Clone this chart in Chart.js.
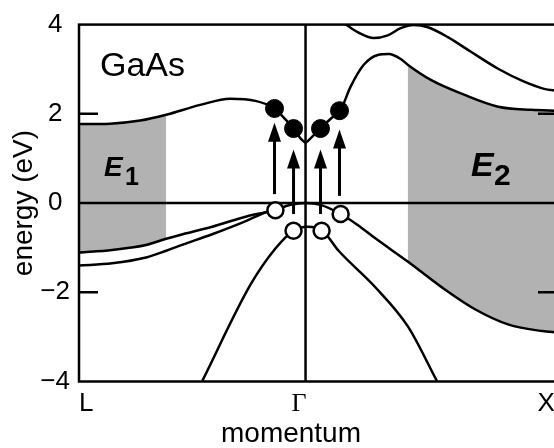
<!DOCTYPE html>
<html>
<head>
<meta charset="utf-8">
<script src="https://cdn.jsdelivr.net/npm/chart.js@4"></script>
<style>
  html, body { margin: 0; padding: 0; background: #fff; overflow: hidden; }
  #wrap { width: 600px; height: 448px; }
</style>
</head>
<body>
<div id="wrap"><canvas id="bands" width="600" height="448"></canvas></div>
<script>
// ---------------- DATA ----------------
// momentum axis: L = -1, Gamma = 0, X = 1.1
const kTicks = [-1, 0, 1.1];
const kLabels = ['L', 'Γ  ', 'X'];
const kMin = -1, kMax = 1.11;
const eMin = -4, eMax = 4, eStep = 2;

// lowest conduction band
const cb1K = [-1, -0.863, -0.730, -0.615, -0.465, -0.332, -0.221, -0.137, -0.088, -0.053, -0.022, 0, 0.022, 0.066, 0.111, 0.155, 0.199, 0.257, 0.319, 0.367, 0.420, 0.451, 0.553, 0.699, 0.850, 0.996, 1.111];
const cb1E = [1.77, 1.78, 1.85, 1.98, 2.20, 2.34, 2.29, 2.12, 1.87, 1.67, 1.45, 1.36, 1.45, 1.67, 1.89, 2.09, 2.61, 3.10, 3.32, 3.34, 3.23, 3.10, 2.76, 2.43, 2.16, 2.09, 2.07];

// upper conduction band
const cb2K = [0.133, 0.177, 0.230, 0.301, 0.363, 0.420, 0.478, 0.540, 0.628, 0.730, 0.850, 0.965, 1.053, 1.111];
const cb2E = [4.17, 4.01, 3.83, 3.70, 3.76, 3.92, 3.99, 3.94, 3.72, 3.39, 3.01, 2.72, 2.56, 2.52];

// top valence band (L -> Gamma -> X)
const hhK = [-1, -0.854, -0.704, -0.615, -0.558, -0.412, -0.261, -0.137, -0.066, 0, 0.066, 0.155, 0.230, 0.305, 0.451, 0.602, 0.748, 0.894, 1.044, 1.111];
const hhE = [-1.11, -1.05, -0.94, -0.80, -0.72, -0.53, -0.30, -0.16, -0.04, 0, -0.04, -0.245, -0.49, -0.78, -1.31, -1.89, -2.38, -2.72, -2.87, -2.90];

// second valence band, L side
const lhK = [-1, -0.854, -0.704, -0.615, -0.558, -0.412, -0.261, -0.173, -0.137];
const lhE = [-1.40, -1.35, -1.22, -1.07, -0.96, -0.70, -0.40, -0.20, -0.16];

// split-off band
const soK = [-0.456, -0.243, -0.133, -0.053, 0.009, 0.075, 0.146, 0.305, 0.451, 0.580];
const soE = [-3.99, -1.83, -1.02, -0.62, -0.53, -0.62, -1.07, -1.87, -2.76, -3.99];

// optical transitions: holes (open), electrons (filled), arrows
const holeK = [-0.133, -0.053, 0.071, 0.155];
const holeE = [-0.16, -0.62, -0.62, -0.245];
const elecK = [-0.137, -0.053, 0.066, 0.150];
const elecE = [2.12, 1.67, 1.67, 2.07];
const arrowK = [-0.137, -0.053, 0.066, 0.150];
const arrowFrom = [0.20, -0.245, -0.245, 0.16];
const arrowTo = [1.80, 1.20, 1.20, 1.65];

// shaded k ranges (E1 near L, E2 towards X)
const e1Range = [-1, -0.615];
const e2Range = [0.451, 1.111];

// ---------------- HELPERS ----------------
const FONT = "'Liberation Sans', Arial, sans-serif";
const pts = (k, e) => k.map((x, i) => ({ x, y: e[i] }));
const inRange = (r) => pts(cb1K, cb1E).filter(p => p.x >= r[0] - 1e-9 && p.x <= r[1] + 1e-9);
const minus = v => v < 0 ? '\u2212' + (-v) : String(v);

Chart.defaults.font.family = FONT;
Chart.defaults.color = '#000';

const band = (data) => ({
  data, borderColor: '#000', borderWidth: 2.5, pointRadius: 0,
  cubicInterpolationMode: 'monotone', fill: false, order: 6
});
const HH = 3; // index of the top valence band dataset, used as fill target

const datasets = [
  { data: inRange(e1Range), borderColor: 'rgba(0,0,0,0)', borderWidth: 0, pointRadius: 0,
    cubicInterpolationMode: 'monotone', backgroundColor: '#b2b2b2', fill: HH, order: 10 },
  { data: inRange(e2Range), borderColor: 'rgba(0,0,0,0)', borderWidth: 0, pointRadius: 0,
    cubicInterpolationMode: 'monotone', backgroundColor: '#b2b2b2', fill: HH, order: 10 },
  { data: pts([kMin, kMax], [0, 0]), borderColor: '#000', borderWidth: 2.5, pointRadius: 0, fill: false, order: 8 },
  band(pts(hhK, hhE)),
  band(pts(lhK, lhE)),
  band(pts(soK, soE)),
  band(pts(cb1K, cb1E)),
  band(pts(cb2K, cb2E)),
  { data: pts([0, 0], [eMin, eMax]), borderColor: '#000', borderWidth: 2.5, pointRadius: 0, fill: false, order: 8 },
  { data: pts(holeK, holeE), showLine: false, pointRadius: 8, pointBackgroundColor: '#fff',
    pointBorderColor: '#000', pointBorderWidth: 2.5, order: 1 },
  { data: pts(elecK, elecE), showLine: false, pointRadius: 9, pointBackgroundColor: '#000',
    pointBorderColor: '#000', pointBorderWidth: 1, order: 1 }
];

// frame, inward ticks, arrows and labels
const decor = {
  id: 'decor',
  afterDatasetsDraw(chart) {
    const { ctx, chartArea: a, scales: { x, y } } = chart;
    ctx.save();
    ctx.strokeStyle = '#000';
    ctx.fillStyle = '#000';
    ctx.lineWidth = 2.5;
    ctx.strokeRect(a.left, a.top, a.right - a.left, a.bottom - a.top);

    [-2, 2].forEach(v => {
      const py = y.getPixelForValue(v);
      ctx.beginPath();
      ctx.moveTo(a.left, py); ctx.lineTo(a.left + 19, py);
      ctx.moveTo(a.right, py); ctx.lineTo(a.right - 19, py);
      ctx.stroke();
    });

    arrowK.forEach((k, i) => {
      const px = x.getPixelForValue(k);
      const y1 = y.getPixelForValue(arrowFrom[i]);
      const y2 = y.getPixelForValue(arrowTo[i]);
      ctx.lineWidth = 3;
      ctx.beginPath();
      ctx.moveTo(px, y1); ctx.lineTo(px, y2 + 15);
      ctx.stroke();
      ctx.beginPath();
      ctx.moveTo(px, y2);
      ctx.lineTo(px - 6.5, y2 + 19);
      ctx.lineTo(px + 6.5, y2 + 19);
      ctx.closePath();
      ctx.fill();
    });
    ctx.restore();
  },
  afterDraw(chart) {
    const { ctx } = chart;
    ctx.save();
    ctx.fillStyle = '#000';
    ctx.textBaseline = 'alphabetic';
    ctx.textAlign = 'left';
    ctx.font = `34px ${FONT}`;
    ctx.fillText('GaAs', 100, 76);

    ctx.font = `italic bold 28px ${FONT}`;
    ctx.fillText('E', 104, 176);
    ctx.font = `bold 25px ${FONT}`;
    ctx.fillText('1', 125, 185);

    ctx.font = `italic bold 34px ${FONT}`;
    ctx.fillText('E', 471, 176);
    ctx.font = `bold 30px ${FONT}`;
    ctx.fillText('2', 494, 185);

    ctx.textAlign = 'center';
    ctx.font = `28px ${FONT}`;
    ctx.fillText('momentum', 291, 442);
    ctx.restore();
  }
};

new Chart(document.getElementById('bands'), {
  type: 'line',
  data: { datasets },
  options: {
    responsive: false,
    animation: false,
    events: [],
    layout: { padding: { top: 22, left: 0, right: 0, bottom: 0 } },
    plugins: { legend: { display: false }, tooltip: { enabled: false } },
    scales: {
      x: {
        type: 'linear', min: kMin, max: kMax,
        grid: { display: false, drawTicks: false },
        border: { display: false },
        afterBuildTicks: s => { s.ticks = kTicks.map(v => ({ value: v })); },
        afterFit: s => { s.height = 66.5; },
        ticks: {
          autoSkip: false, maxRotation: 0, align: 'inner', padding: 7, color: '#000',
          callback: (v, i) => kLabels[i],
          font: c => c.index === 1 ? { family: "'Liberation Serif', 'Times New Roman', serif", size: 26 } : { family: FONT, size: 26 }
        }
      },
      y: {
        min: eMin, max: eMax,
        grid: { display: false, drawTicks: false },
        border: { display: false },
        afterFit: s => { s.width = 79; },
        ticks: { stepSize: eStep, crossAlign: 'center', padding: 9, color: '#000', font: { size: 26 }, callback: minus },
        title: { display: true, text: 'energy (eV)', color: '#000', font: { size: 28 }, padding: { top: 7, bottom: 0 } }
      },
      y2: {
        position: 'right', min: eMin, max: eMax,
        grid: { display: false, drawTicks: false },
        border: { display: false },
        ticks: { display: false },
        afterFit: s => { s.width = 43; }
      }
    }
  },
  plugins: [decor]
});
</script>
</body>
</html>
